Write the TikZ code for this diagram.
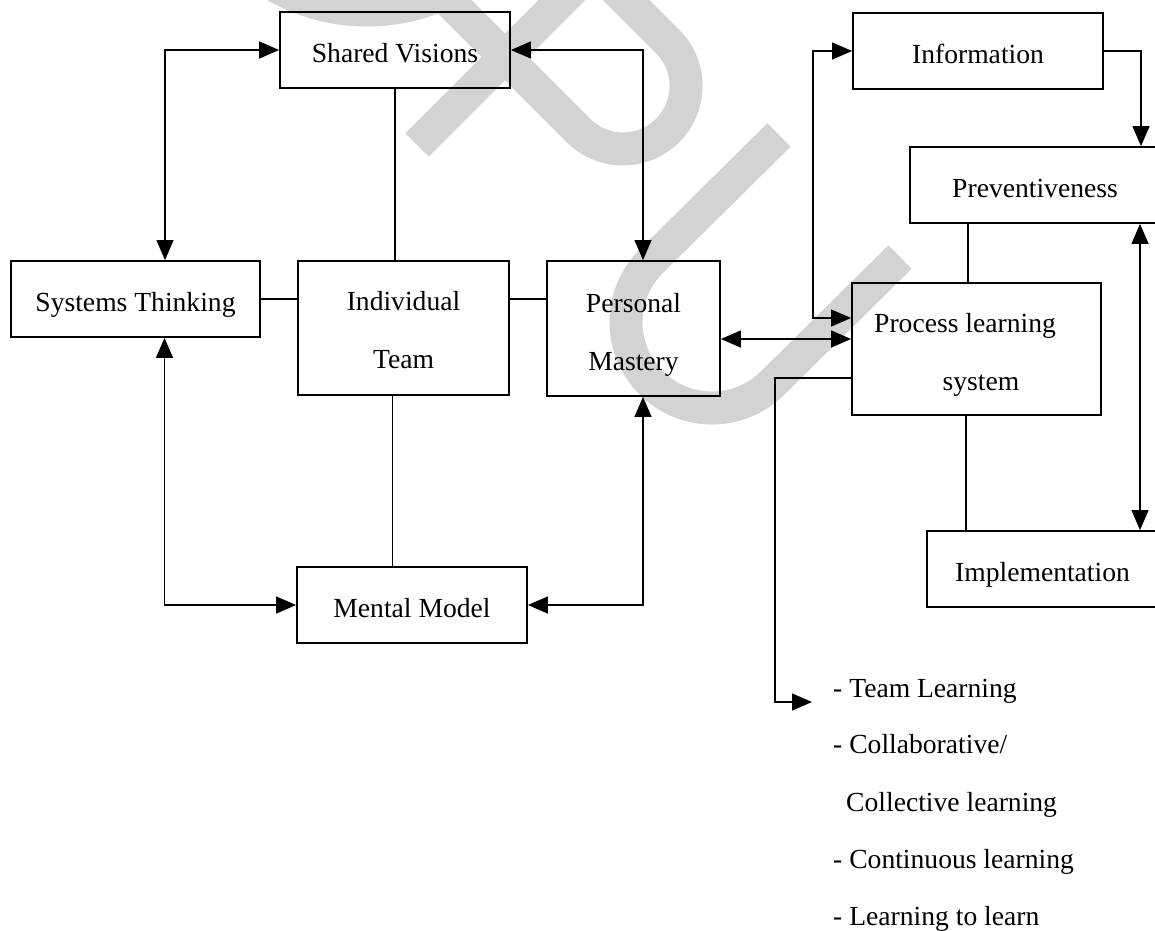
\documentclass[tikz,border=0pt]{standalone}
\usepackage{fontspec}
\setmainfont{Liberation Serif}
\usetikzlibrary{arrows.meta}
\definecolor{wm}{RGB}{211,211,211}
\tikzset{
  box/.style={draw, line width=1.8pt, inner sep=0pt,
    font=\fontsize{27.6}{33}\selectfont, text height=24pt, text depth=0pt},
  lbl/.style={inner sep=0pt, anchor=base, font=\fontsize{27.6}{33}\selectfont},
  link/.style={line width=1.3pt},
  tip/.style={link, -{Triangle[length=20pt,width=17pt]}},
  bi/.style={link, {Triangle[length=20pt,width=17pt]}-{Triangle[length=20pt,width=17pt]}},
  wmstroke/.style={draw=wm, line width=33pt},
}
\begin{document}
\begin{tikzpicture}[x=1pt, y=-1pt]
\useasboundingbox (0,0) rectangle (1155,930);

% light background lettering
\begin{scope}
  \clip (0,0) rectangle (1155,930);
  \draw[wmstroke] (367,-175) circle[radius=185pt];
  \draw[wmstroke] (417,145) -- (637,-75);
  \draw[wmstroke] (400,-48) -- (578.5,130.5) arc[start angle=135, end angle=-45, radius=63] -- ++(-120,-120);
  \draw[wmstroke] (779,135) -- (651.2,261.2) arc[start angle=225, end angle=45, radius=86] -- (900,257);
\end{scope}

% left group
\node[box, minimum width=230pt, minimum height=76pt] (sv) at (395,50) {Shared Visions};
\node[box, minimum width=249pt, minimum height=76pt] (st) at (135.5,299) {Systems Thinking};
\node[box, minimum width=211pt, minimum height=134pt] (it) at (403.5,328) {};
\node[box, minimum width=173pt, minimum height=135pt] (pm) at (633.5,328.5) {};
\node[box, minimum width=230pt, minimum height=76pt] (mm) at (412,605) {Mental Model};

\node[lbl] (it1) at ([yshift=18pt]it.center) {Individual};
\node[lbl] (it2) at ([yshift=-40pt]it.center) {Team};
\node[lbl] (pm1) at ([yshift=16.5pt]pm.center) {Personal};
\node[lbl] (pm2) at ([yshift=-41.5pt]pm.center) {Mastery};

% right group
\node[box, minimum width=250pt, minimum height=76pt] (inf) at (978,51) {Information};
\node[box, minimum width=250pt, minimum height=76pt] (prv) at (1035,185) {Preventiveness};
\node[box, minimum width=249pt, minimum height=132pt] (pls) at (976.5,349) {};
\node[box, minimum width=231pt, minimum height=76pt] (imp) at (1042.5,569) {Implementation};

\node[lbl] (pls1) at ([xshift=-11.5pt, yshift=17pt]pls.center) {Process learning};
\node[lbl] (pls2) at ([xshift=4.5pt, yshift=-41pt]pls.center) {system};

% list of learning forms
\node[lbl, anchor=base west] (l1) at (833,697) {- Team Learning};
\node[lbl, anchor=base west] (l2) at (833,753) {- Collaborative/};
\node[lbl, anchor=base west] (l3) at (846,811) {Collective learning};
\node[lbl, anchor=base west] (l4) at (833,868) {- Continuous learning};
\node[lbl, anchor=base west] (l5) at (833,925) {- Learning to learn};

% connectors, left group
\draw[bi] ([xshift=29.5pt]st.north) |- (sv.west);
\draw[bi] (sv.east) -| ([xshift=9.5pt]pm.north);
\draw[link] (st.east) -- (st.east -| it.west);
\draw[link] (it.east |- st.east) -- (pm.west |- st.east);
\draw[link] (sv.south) -- (sv.south |- it.north);
\coordinate (a6) at ([xshift=-11pt]it.south);
\draw[link] (a6) -- (a6 |- mm.north);
\draw[bi] ([xshift=29pt]st.south) |- (mm.west);
\draw[bi] ([xshift=9.5pt]pm.south) |- (mm.east);

% connectors, right group
\coordinate (a9) at ([yshift=-10.5pt]pm.east);
\draw[bi] (a9) -- (a9 -| pls.west);
\draw[bi] (inf.west) -- ++(-39pt,0) |- ([yshift=31pt]pls.west);
\draw[tip] (inf.east) -| ([xshift=106pt]prv.north);
\coordinate (a12) at ([xshift=-67pt]prv.south);
\draw[link] (a12) -- (a12 |- pls.north);
\coordinate (a13) at ([xshift=-10.5pt]pls.south);
\draw[link] (a13) -- (a13 |- imp.north);
\coordinate (a14) at ([xshift=105pt]prv.south);
\draw[bi] (a14) -- (a14 |- imp.north);
\coordinate (a15) at ([yshift=-29pt]pls.west);
\coordinate (bend) at (775,702);
\coordinate (tl) at (812,702);
\draw[tip] (a15) -| (bend) -- (tl);
\end{tikzpicture}
\end{document}
